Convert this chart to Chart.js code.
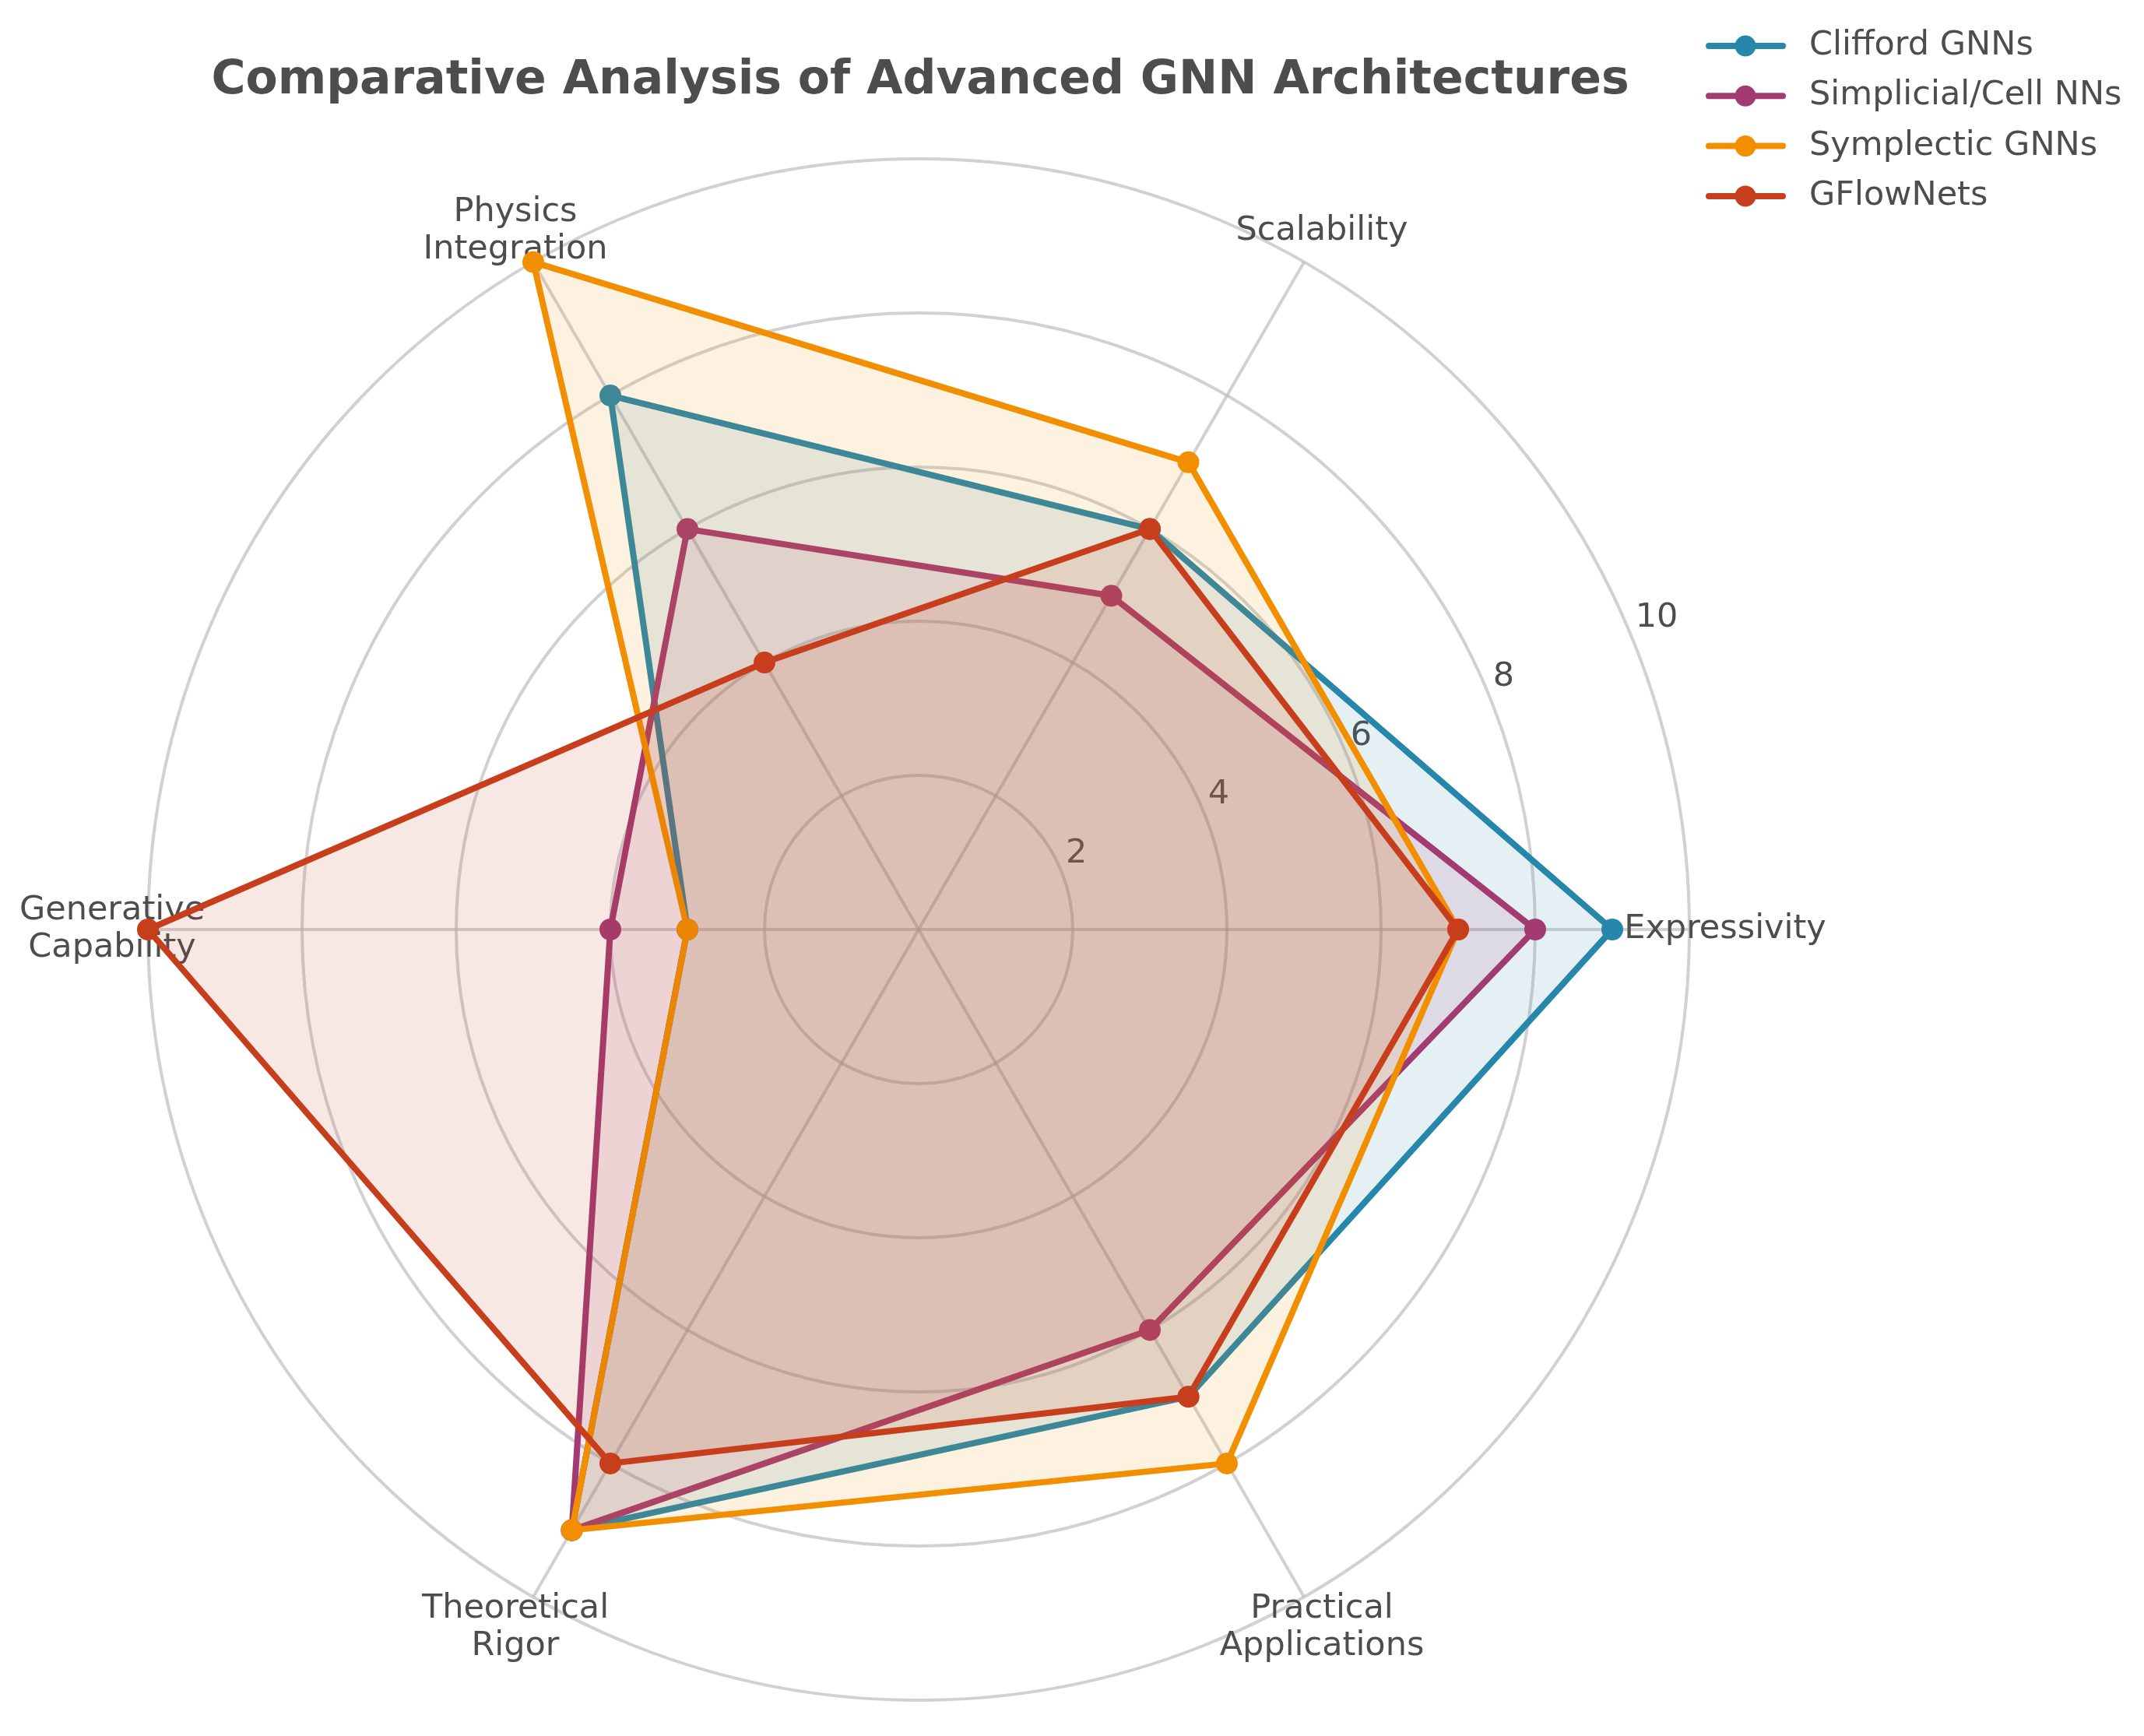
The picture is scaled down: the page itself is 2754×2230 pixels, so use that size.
<!DOCTYPE html>
<html lang="en">
<head>
    <meta charset="UTF-8">
    <title>Comparative Analysis of Advanced GNN Architectures</title>
    <script src="https://cdn.jsdelivr.net/npm/chart.js"></script>
    <style>
        html, body {
            margin: 0;
            padding: 0;
            background: #ffffff;
        }
        .chart-container {
            position: relative;
            width: 2754px;
            height: 2230px;
        }
    </style>
</head>
<body>
    <div class="chart-container">
        <canvas id="radarChart"></canvas>
    </div>

    <script>
        // axes listed clockwise starting from the right-hand spoke
        const categories = [
            ['Expressivity'],
            ['Practical', 'Applications'],
            ['Theoretical', 'Rigor'],
            ['Generative', 'Capability'],
            ['Physics', 'Integration'],
            ['Scalability']
        ];
        const seriesNames = ['Clifford GNNs', 'Simplicial/Cell NNs', 'Symplectic GNNs', 'GFlowNets'];
        const seriesColors = ['#2687AB', '#A23B72', '#F18F01', '#C73E1D'];

        const cliffordValues = [9, 7, 9, 3, 8, 6];
        const simplicialValues = [8, 6, 9, 4, 6, 5];
        const symplecticValues = [7, 8, 9, 3, 10, 7];
        const gflownetValues = [7, 7, 8, 10, 4, 6];

        const tickValues = [2, 4, 6, 8, 10];

        const TEXT_COLOR = '#4D4D4F';
        const FONT = '"DejaVu Sans", sans-serif';

        function hexToRgba(hex, alpha) {
            const n = parseInt(hex.slice(1), 16);
            return `rgba(${(n >> 16) & 255}, ${(n >> 8) & 255}, ${n & 255}, ${alpha})`;
        }

        const allValues = [cliffordValues, simplicialValues, symplecticValues, gflownetValues];
        const datasets = seriesNames.map((name, i) => ({
            label: name,
            data: allValues[i],
            borderColor: seriesColors[i],
            backgroundColor: hexToRgba(seriesColors[i], 0.12),
            borderWidth: 8,
            borderJoinStyle: 'round',
            pointRadius: 14,
            pointHoverRadius: 14,
            pointBorderWidth: 0,
            pointBackgroundColor: seriesColors[i],
            fill: true,
            order: seriesNames.length - i   // later series painted on top
        }));

        // axis text sits under the filled polygons, like the original
        const axisTextPlugin = {
            id: 'axisText',
            beforeDatasetsDraw(chart) {
                const scale = chart.scales.r;
                const ctx = chart.ctx;
                ctx.save();
                ctx.fillStyle = TEXT_COLOR;
                ctx.font = `43px ${FONT}`;

                // radial tick labels along 22.5 degrees
                const a = 22.5 * Math.PI / 180;
                ctx.textAlign = 'left';
                ctx.textBaseline = 'alphabetic';
                tickValues.forEach(v => {
                    const r = scale.getDistanceFromCenterForValue(v);
                    ctx.fillText(String(v), scale.xCenter + r * Math.cos(a) + 6, scale.yCenter - r * Math.sin(a) - 10);
                });

                // category labels centred just outside the outer ring
                ctx.textAlign = 'center';
                ctx.textBaseline = 'middle';
                const lineHeight = 48;
                const dist = scale.drawingArea + 46;
                categories.forEach((lines, i) => {
                    const p = scale.getPointPosition(i, dist);
                    lines.forEach((line, k) => {
                        ctx.fillText(line, p.x, p.y + (k - (lines.length - 1) / 2) * lineHeight);
                    });
                });
                ctx.restore();
            }
        };

        const titleLegendPlugin = {
            id: 'titleLegend',
            afterDraw(chart) {
                const ctx = chart.ctx;
                const scale = chart.scales.r;
                ctx.save();

                ctx.fillStyle = TEXT_COLOR;
                ctx.font = `bold 60px ${FONT}`;
                ctx.textAlign = 'center';
                ctx.textBaseline = 'alphabetic';
                ctx.fillText('Comparative Analysis of Advanced GNN Architectures', scale.xCenter + 2, 120);

                ctx.font = `43px ${FONT}`;
                ctx.textAlign = 'left';
                ctx.textBaseline = 'middle';
                seriesNames.forEach((name, i) => {
                    const y = 59 + i * 64.3;
                    ctx.strokeStyle = seriesColors[i];
                    ctx.lineWidth = 8;
                    ctx.lineCap = 'round';
                    ctx.beginPath();
                    ctx.moveTo(2195, y);
                    ctx.lineTo(2290, y);
                    ctx.stroke();
                    ctx.fillStyle = seriesColors[i];
                    ctx.beginPath();
                    ctx.arc(2242, y, 13.5, 0, Math.PI * 2);
                    ctx.fill();
                    ctx.fillStyle = TEXT_COLOR;
                    ctx.fillText(name, 2324, y);
                });
                ctx.restore();
            }
        };

        new Chart(document.getElementById('radarChart'), {
            type: 'radar',
            data: {
                labels: categories.map(c => c.join(' ')),
                datasets: datasets
            },
            options: {
                responsive: true,
                maintainAspectRatio: false,
                devicePixelRatio: 1,
                animation: false,
                layout: {
                    padding: { left: 190, right: 584, top: 204, bottom: 46 }
                },
                plugins: {
                    legend: { display: false },
                    title: { display: false },
                    tooltip: { enabled: false }
                },
                elements: {
                    line: { tension: 0 }
                },
                scales: {
                    r: {
                        min: 0,
                        max: 10,
                        startAngle: 90,
                        ticks: { stepSize: 2, display: false },
                        pointLabels: { display: false },
                        grid: {
                            circular: true,
                            color: 'rgba(185, 185, 190, 0.65)',
                            lineWidth: 4
                        },
                        angleLines: {
                            color: 'rgba(185, 185, 190, 0.65)',
                            lineWidth: 4
                        }
                    }
                }
            },
            plugins: [axisTextPlugin, titleLegendPlugin]
        });
    </script>
</body>
</html>
